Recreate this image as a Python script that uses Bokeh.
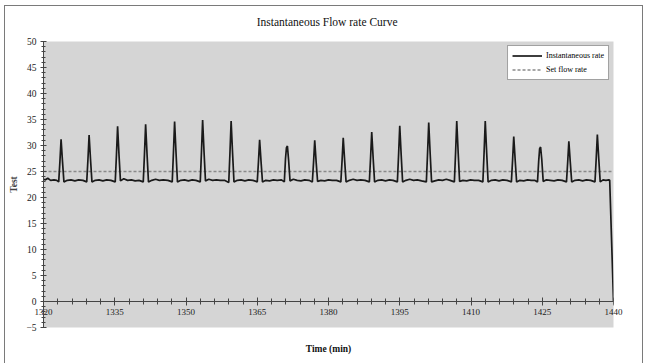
from bokeh.plotting import figure
from bokeh.models import (Range1d, LinearAxis, SingleIntervalTicker, FixedTicker,
                          Legend, LegendItem)
from bokeh.embed import file_html
from bokeh.resources import INLINE

# ---------------- data ----------------
TITLE = "Instantaneous  Flow rate Curve"
X_LABEL = "Time (min)"
Y_LABEL = "Test"
SERIES_NAMES = ["Instantaneous rate", "Set flow rate"]
SET_FLOW_RATE = 25.0

x_tick_values = [1320, 1335, 1350, 1365, 1380, 1395, 1410, 1425, 1440]
x_tick_labels = ["1320", "1335", "1350", "1365", "1380", "1395", "1410", "1425", "1440"]

time_min = [
    1320.0, 1320.4, 1320.9, 1321.5, 1322.2, 1322.8,
    1323.2, 1323.45, 1323.7, 1324.0, 1324.3, 1325.0, 1325.8, 1326.6, 1327.4, 1328.3,
    1329.1, 1329.35, 1329.6, 1329.9, 1330.2, 1330.9, 1331.7, 1332.5, 1333.3, 1334.2,
    1335.1, 1335.35, 1335.6, 1335.9, 1336.2, 1336.9, 1337.7, 1338.5, 1339.3, 1340.1,
    1341.0, 1341.25, 1341.5, 1341.8, 1342.1, 1342.8, 1343.6, 1344.4, 1345.2, 1346.2,
    1347.1, 1347.35, 1347.6, 1347.9, 1348.2, 1348.9, 1349.7, 1350.5, 1351.3, 1352.1,
    1353.0, 1353.25, 1353.5, 1353.8, 1354.1, 1354.8, 1355.6, 1356.4, 1357.2, 1358.1,
    1359.0, 1359.25, 1359.5, 1359.8, 1360.1, 1360.8, 1361.6, 1362.4, 1363.2, 1364.1,
    1365.0, 1365.25, 1365.5, 1365.8, 1366.1, 1366.8, 1367.6, 1368.4, 1369.2, 1370.1,
    1370.7, 1370.95, 1371.15, 1371.35, 1371.6, 1371.9, 1372.6, 1373.4, 1374.2, 1375.0, 1375.9,
    1376.6, 1376.85, 1377.1, 1377.4, 1377.7, 1378.4, 1379.2, 1380.0, 1380.8, 1381.7,
    1382.6, 1382.85, 1383.1, 1383.4, 1383.7, 1384.4, 1385.2, 1386.0, 1386.8, 1387.7,
    1388.6, 1388.85, 1389.1, 1389.4, 1389.7, 1390.4, 1391.2, 1392.0, 1392.8, 1393.6,
    1394.5, 1394.75, 1395.0, 1395.3, 1395.6, 1396.3, 1397.1, 1397.9, 1398.7, 1399.6,
    1400.6, 1400.85, 1401.1, 1401.4, 1401.7, 1402.4, 1403.2, 1404.0, 1404.8, 1405.6,
    1406.5, 1406.75, 1407.0, 1407.3, 1407.6, 1408.3, 1409.1, 1409.9, 1410.7, 1411.6,
    1412.5, 1412.75, 1413.0, 1413.3, 1413.6, 1414.3, 1415.1, 1415.9, 1416.7, 1417.6,
    1418.5, 1418.75, 1419.0, 1419.3, 1419.6, 1420.3, 1421.1, 1421.9, 1422.7, 1423.4,
    1424.0, 1424.25, 1424.45, 1424.65, 1424.9, 1425.2, 1425.9, 1426.7, 1427.5, 1428.3, 1429.2,
    1430.1, 1430.35, 1430.6, 1430.9, 1431.2, 1431.9, 1432.7, 1433.5, 1434.3, 1435.2,
    1436.1, 1436.35, 1436.6, 1436.9, 1437.2, 1437.8, 1438.4, 1439.0, 1439.2, 1440.0,
]

instantaneous_rate = [
    23.5, 23.4, 23.7, 23.3, 23.4, 23.3,
    23.0, 26.8, 31.2, 26.9, 23.0, 23.3, 23.4, 23.2, 23.4, 23.3,
    23.0, 27.2, 32.0, 27.3, 23.0, 23.3, 23.4, 23.2, 23.4, 23.3,
    23.0, 28.0, 33.7, 28.1, 23.2, 23.6, 23.3, 23.4, 23.2, 23.3,
    23.0, 28.2, 34.1, 28.3, 23.0, 23.3, 23.5, 23.3, 23.4, 23.3,
    23.0, 28.5, 34.6, 28.6, 23.0, 23.3, 23.4, 23.2, 23.4, 23.3,
    23.0, 28.6, 34.9, 28.7, 23.2, 23.5, 23.3, 23.4, 23.3, 23.3,
    22.9, 28.5, 34.7, 28.6, 23.0, 23.3, 23.4, 23.2, 23.4, 23.3,
    23.0, 26.8, 31.1, 26.9, 23.0, 23.3, 23.2, 23.4, 23.3, 23.4,
    23.0, 27.5, 29.6, 29.9, 27.2, 23.2, 23.5, 23.3, 23.2, 23.4, 23.3,
    23.0, 26.7, 31.0, 26.8, 23.1, 23.3, 23.2, 23.4, 23.3, 23.3,
    23.0, 27.0, 31.5, 27.1, 23.0, 23.3, 23.5, 23.3, 23.4, 23.3,
    23.0, 27.5, 32.6, 27.6, 23.0, 23.3, 23.4, 23.2, 23.4, 23.3,
    23.0, 28.1, 33.8, 28.2, 23.0, 23.3, 23.5, 23.3, 23.4, 23.2,
    23.0, 28.4, 34.4, 28.5, 23.0, 23.2, 23.4, 23.3, 23.5, 23.3,
    23.0, 28.5, 34.7, 28.6, 23.1, 23.3, 23.2, 23.4, 23.3, 23.3,
    23.0, 28.5, 34.7, 28.6, 23.0, 23.3, 23.4, 23.2, 23.4, 23.3,
    23.0, 27.1, 31.7, 27.2, 23.0, 23.3, 23.2, 23.4, 23.3, 23.3,
    23.0, 27.0, 29.4, 29.7, 27.3, 23.1, 23.4, 23.3, 23.2, 23.4, 23.3,
    23.0, 26.7, 30.8, 26.8, 23.0, 23.3, 23.4, 23.2, 23.4, 23.3,
    23.0, 27.3, 32.1, 27.4, 23.0, 23.4, 23.3, 23.4, 23.3, 0.0,
]

X_START, X_END = 1320, 1440
Y_START, Y_END = -5, 50

FONT = "Liberation Serif"

# ---------------- figure ----------------
p = figure(width=646, height=363,
           min_border_left=43, min_border_right=33,
           min_border_top=41, min_border_bottom=36,
           x_range=Range1d(X_START, X_END), y_range=Range1d(Y_START, Y_END),
           x_axis_location=None, y_axis_location="left",
           output_backend="svg", toolbar_location=None,
           background_fill_color="#d5d5d5")
p.border_fill_alpha = 0
p.outline_line_color = None
p.grid.visible = False
# outer chart-area frame (left, top, right edges) painted behind the transparent border
p.styles = {
    "background":
        "linear-gradient(#7a7a7a,#7a7a7a) 4px 5px / 1px 100% no-repeat, "
        "linear-gradient(#7a7a7a,#7a7a7a) 4px 5px / 639px 1px no-repeat, "
        "linear-gradient(#7a7a7a,#7a7a7a) 642px 5px / 1px 100% no-repeat, "
        "white",
}

p.title.text = TITLE
p.title.align = "center"
p.title.text_font = FONT
p.title.text_font_size = "11.5px"
p.title.text_font_style = "normal"
p.title.text_color = "#111111"
p.title.standoff = 27

# y axis
ya = p.yaxis[0]
ya.ticker = SingleIntervalTicker(interval=5, num_minor_ticks=5)
ya.axis_label = Y_LABEL
ya.axis_label_text_font = FONT
ya.axis_label_text_font_style = "bold"
ya.axis_label_text_font_size = "9.5px"
ya.axis_label_standoff = 4
ya.major_label_text_font = FONT
ya.major_label_text_font_size = "9.5px"
ya.major_label_text_color = "#222222"
ya.axis_line_color = "#444444"
ya.major_tick_line_color = "#444444"
ya.minor_tick_line_color = "#444444"
ya.major_tick_in = 3
ya.major_tick_out = 3
ya.minor_tick_in = 2
ya.minor_tick_out = 2
ya.major_label_standoff = 4

# x axis line and ticks crossing at y = 0
xa = LinearAxis(fixed_location=0,
                ticker=SingleIntervalTicker(interval=15, num_minor_ticks=5))
xa.major_label_text_alpha = 0
xa.major_label_text_font_size = "1px"
xa.axis_line_color = "#444444"
xa.major_tick_line_color = "#444444"
xa.minor_tick_line_color = "#444444"
xa.major_tick_in = 4
xa.major_tick_out = 4
xa.minor_tick_in = 3
xa.minor_tick_out = 3
p.add_layout(xa, "below")

# x tick labels and axis title: a plain bottom axis whose labels are lifted up
# under the y = 0 line
xb = LinearAxis(ticker=FixedTicker(ticks=x_tick_values, minor_ticks=[]),
                major_label_overrides=dict(zip(x_tick_values, x_tick_labels)))
xb.axis_line_color = None
xb.major_tick_line_color = None
xb.minor_tick_line_color = None
xb.major_tick_out = 0
xb.major_tick_in = 0
xb.major_label_standoff = -19
xb.major_label_text_font = FONT
xb.major_label_text_font_size = "9px"
xb.major_label_text_color = "#222222"
xb.axis_label = X_LABEL
xb.axis_label_text_font = FONT
xb.axis_label_text_font_style = "bold"
xb.axis_label_text_font_size = "9.5px"
xb.axis_label_text_color = "#111111"
xb.axis_label_standoff = 26
p.add_layout(xb, "below")

# ---------------- series ----------------
r_set = p.line(x=[time_min[0], time_min[-1]], y=[SET_FLOW_RATE, SET_FLOW_RATE],
               line_color="#8a8a8a", line_width=1.4, line_dash="3 2")
r_inst = p.line(x=time_min, y=instantaneous_rate,
                line_color="#1a1a1a", line_width=1.7)

legend = Legend(items=[LegendItem(label=SERIES_NAMES[0], renderers=[r_inst]),
                       LegendItem(label=SERIES_NAMES[1], renderers=[r_set])],
                location="top_right")
legend.label_text_font = FONT
legend.label_text_font_size = "8px"
legend.label_text_color = "#000000"
legend.glyph_width = 30
legend.glyph_height = 11
legend.label_height = 11
legend.label_standoff = 4
legend.spacing = 3
legend.padding = 4
legend.margin = 4
legend.border_line_color = "#444444"
legend.border_line_width = 1
legend.background_fill_color = "white"
legend.background_fill_alpha = 1.0
p.add_layout(legend)

open("out.html", "w").write(file_html(p, INLINE))
